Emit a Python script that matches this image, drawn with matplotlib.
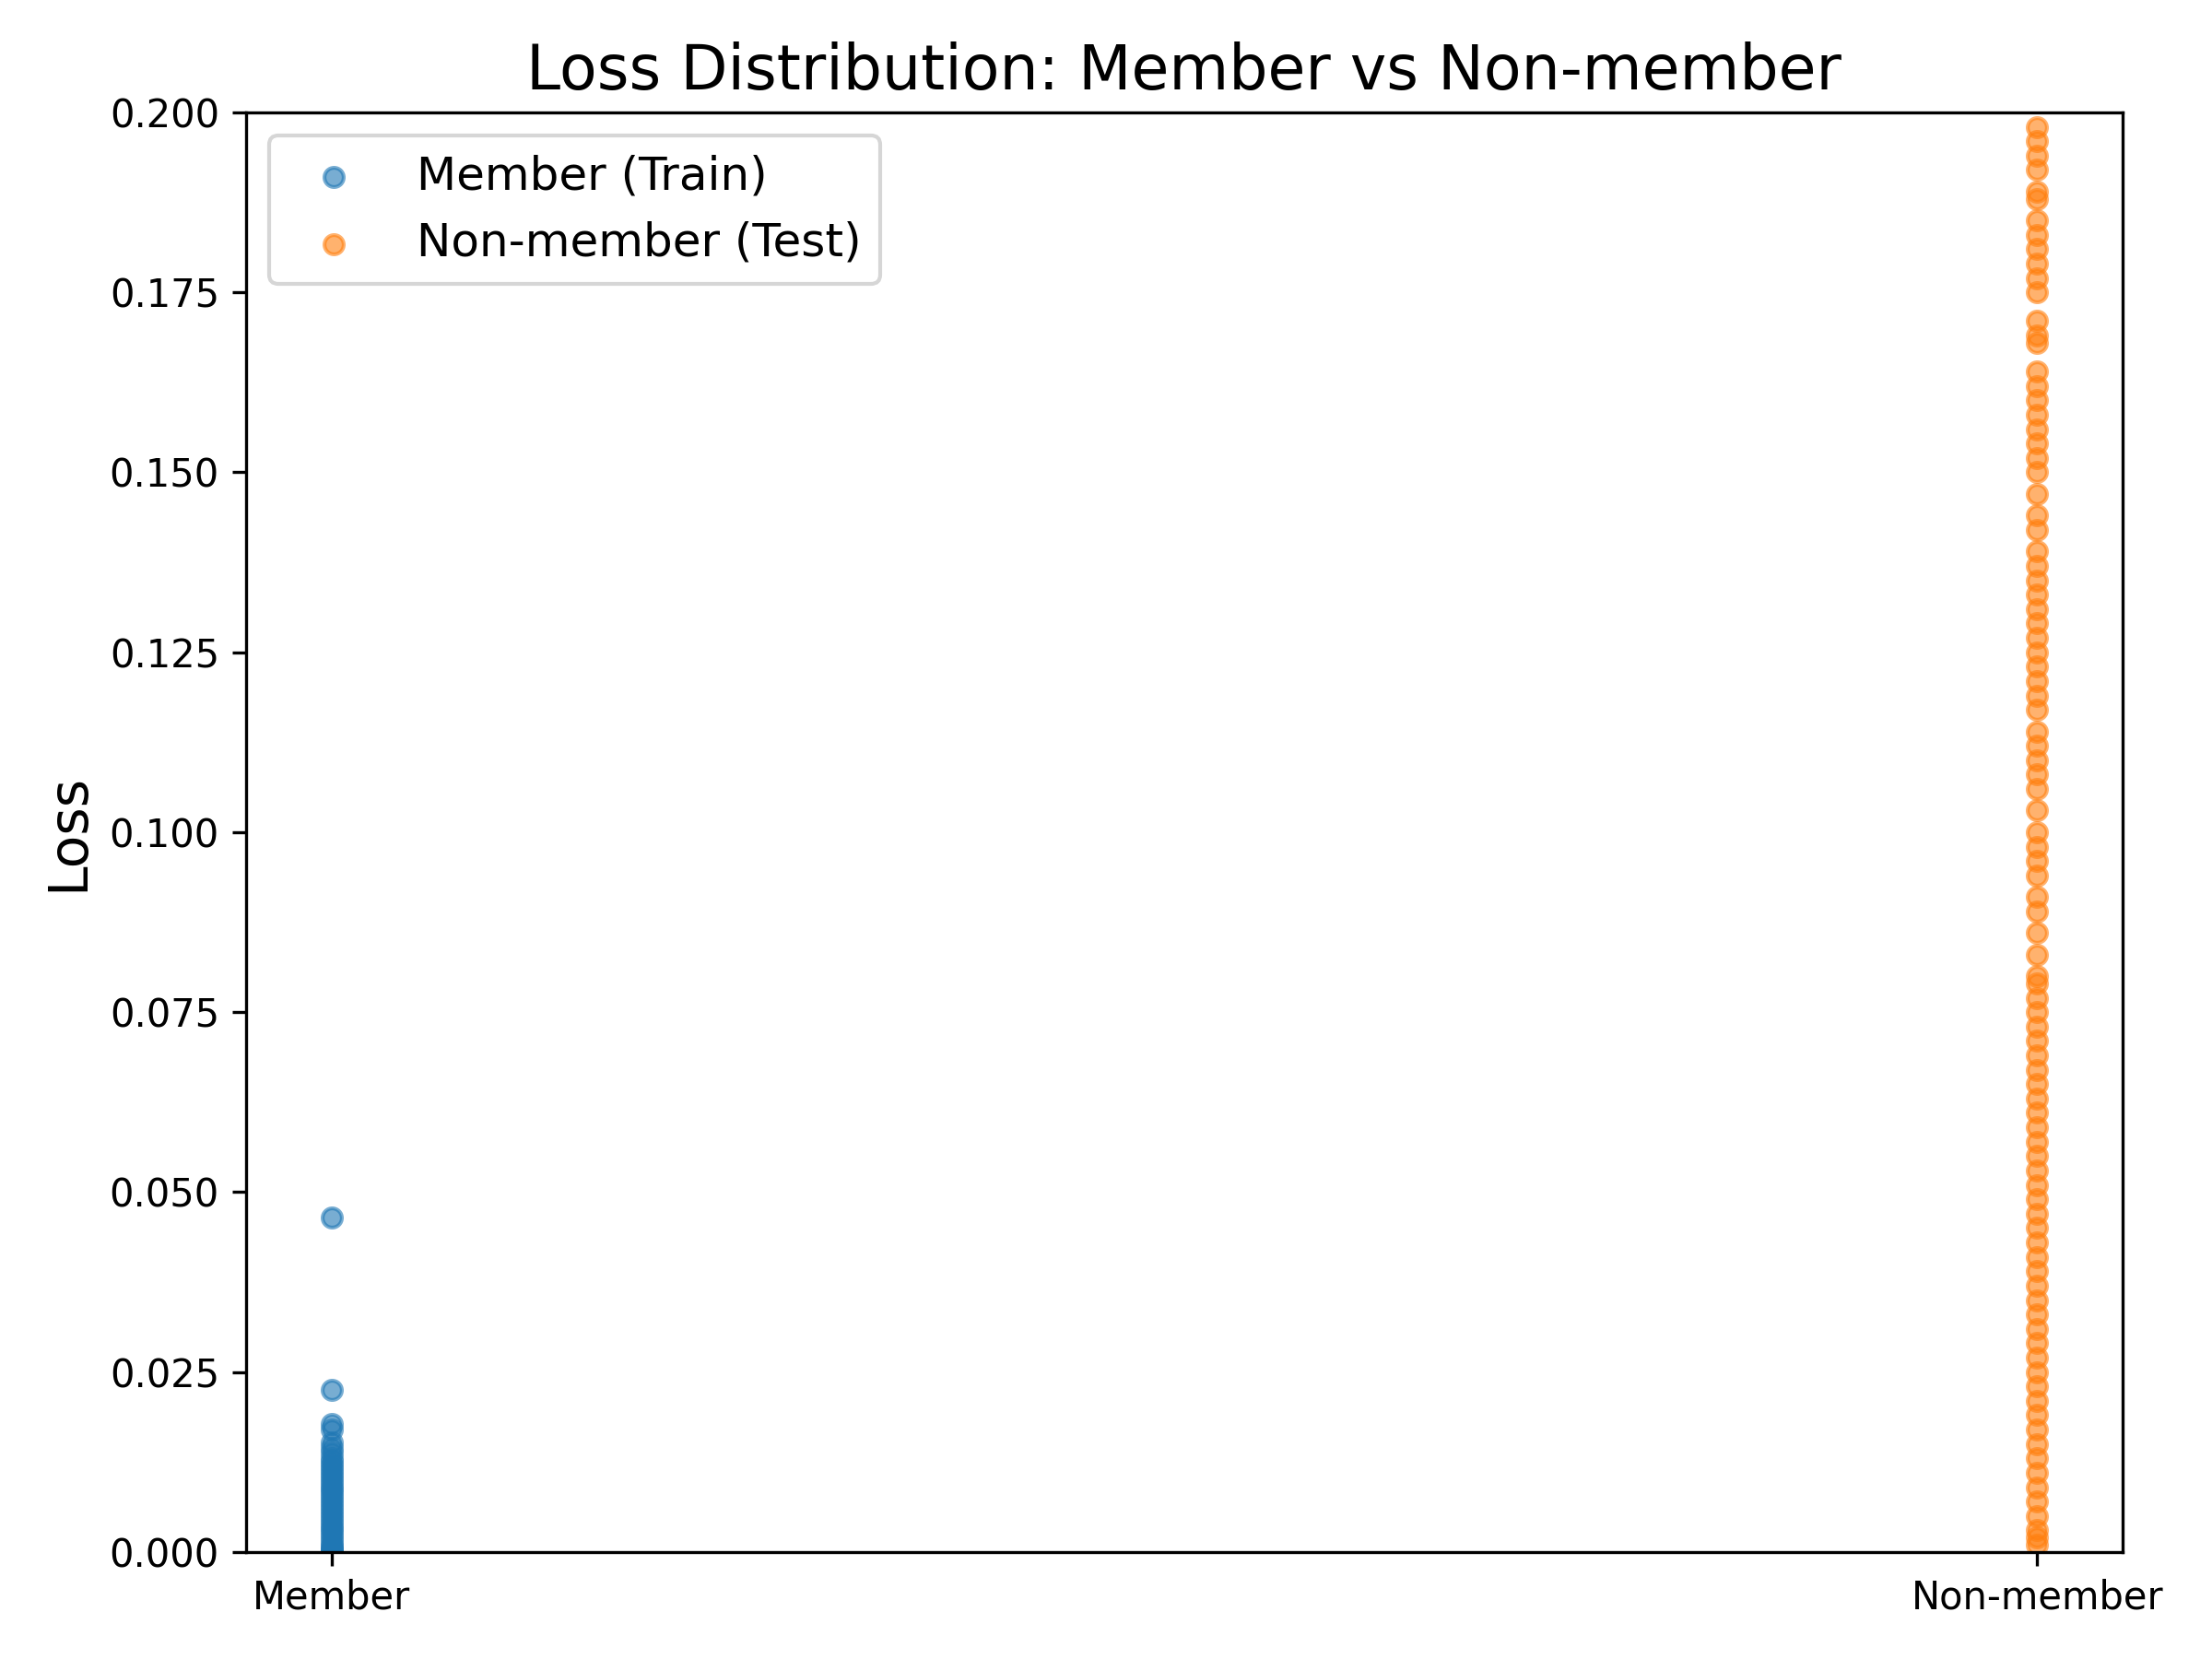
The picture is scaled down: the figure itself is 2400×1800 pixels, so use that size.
import matplotlib
matplotlib.use("Agg")
import matplotlib.pyplot as plt

# loss values
member_loss = [0.0465, 0.0225, 0.0178, 0.0170, 0.0152, 0.0145, 0.0138, 0.0130, 0.0125,
	0.0120, 0.0115, 0.0110, 0.0105, 0.0100, 0.0095, 0.0090, 0.0085, 0.0080, 0.0075,
	0.0070, 0.0065, 0.0060, 0.0055, 0.0050, 0.0045, 0.0040, 0.0035, 0.0030, 0.0025,
	0.0020, 0.0015, 0.0010, 0.0007, 0.0004, 0.0002, 0.0001]

nonmember_loss = [0.198, 0.196, 0.194, 0.192, 0.189, 0.188, 0.185, 0.183, 0.181, 0.179,
	0.177, 0.175, 0.171, 0.169, 0.168, 0.164, 0.162, 0.160, 0.158, 0.156, 0.154, 0.152,
	0.150, 0.147, 0.144, 0.142, 0.139, 0.137, 0.135, 0.133, 0.131, 0.129, 0.127, 0.125,
	0.123, 0.121, 0.119, 0.117, 0.114, 0.112, 0.110, 0.108, 0.106, 0.103, 0.100, 0.098,
	0.096, 0.094, 0.091, 0.089, 0.086, 0.083, 0.080, 0.079, 0.077, 0.075, 0.073, 0.071,
	0.069, 0.067, 0.065, 0.063, 0.061, 0.059, 0.057, 0.055, 0.053, 0.051, 0.049, 0.047,
	0.045, 0.043, 0.041, 0.039, 0.037, 0.035, 0.033, 0.031, 0.029, 0.027, 0.025, 0.023,
	0.021, 0.019, 0.017, 0.015, 0.013, 0.011, 0.009, 0.007, 0.005, 0.003, 0.002, 0.001]

groups = ["Member", "Non-member"]

def main():
	fig, ax = plt.subplots(figsize=(8, 6), dpi=300)
	ax.scatter([0]*len(member_loss), member_loss, s=25, alpha=0.6, color='#1f77b4', label='Member (Train)')
	ax.scatter([1]*len(nonmember_loss), nonmember_loss, s=25, alpha=0.6, color='#ff7f0e', label='Non-member (Test)')
	ax.set_xticks([0, 1])
	ax.set_xticklabels(groups)
	ax.set_ylim(0, 0.2)
	ax.set_ylabel('Loss', fontsize=14)
	ax.set_title('Loss Distribution: Member vs Non-member', fontsize=16)
	ax.legend(fontsize=12, loc='upper left')
	fig.tight_layout()
	fig.savefig('out.png')

main()
